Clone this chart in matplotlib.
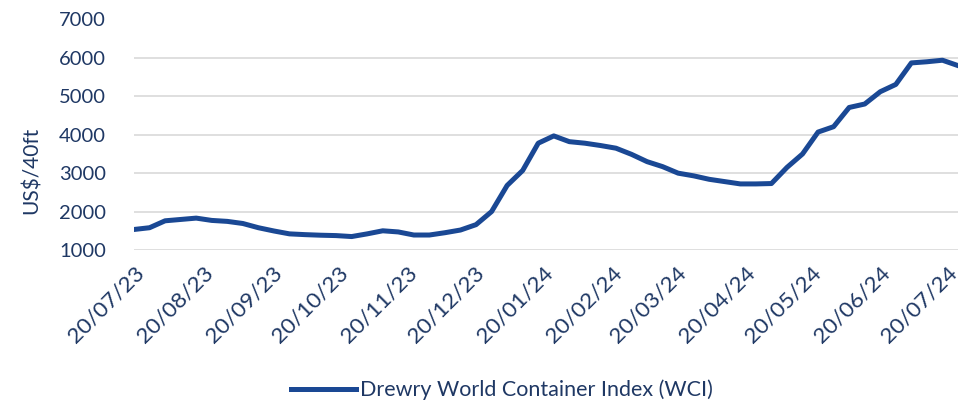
import pandas as pd
import numpy as np
import matplotlib.pyplot as plt
import matplotlib.dates as mdates

# weekly Drewry WCI readings (Thursdays)
start_date = '2023-07-20'
n_weeks = 54
wci = [1534, 1580, 1760, 1795, 1830, 1770, 1745, 1690, 1580, 1495,
       1420, 1400, 1385, 1375, 1350, 1420, 1500, 1470, 1390, 1390,
       1450, 1520, 1660, 2000, 2680, 3070, 3780, 3970, 3820, 3780,
       3720, 3650, 3490, 3300, 3170, 3000, 2930, 2840, 2780, 2720,
       2720, 2730, 3150, 3500, 4070, 4210, 4710, 4800, 5120, 5310,
       5870, 5900, 5940, 5800]
tick_dates = pd.date_range('2023-07-01', periods=13, freq='MS') + pd.Timedelta(days=19)

dates = pd.date_range(start_date, periods=n_weeks, freq='7D')

navy = '#1f3864'
line_col = '#1a4894'
plt.rcParams['font.family'] = ['Lato', 'DejaVu Sans']

fig = plt.figure(figsize=(9.75, 4.01), dpi=100)
ax = fig.add_axes([134/975, 1-250/401, (958-134)/975, (250-19.5)/401])

ax.plot(dates, wci, color=line_col, linewidth=3.6, solid_joinstyle='round',
        label='Drewry World Container Index (WCI)')

ax.set_xlim(dates[0], dates[-1])
ax.set_ylim(1000, 7000)
ax.set_yticks(range(1000, 7001, 1000))
ax.set_xticks(tick_dates)
ax.xaxis.set_major_formatter(mdates.DateFormatter('%d/%m/%y'))
ax.grid(axis='y', color='#d9d9d9', linewidth=1.2)
ax.set_axisbelow(True)
for s in ax.spines.values():
    s.set_visible(False)
ax.tick_params(axis='y', length=0, labelsize=14.5, colors=navy, pad=20)
ax.tick_params(axis='x', length=0, labelsize=16.2, colors=navy, pad=9)
for lbl in ax.get_xticklabels():
    lbl.set_rotation(45)
    lbl.set_ha('right')
    lbl.set_va('top')
    lbl.set_rotation_mode('anchor')

fig.text(32/975, 1-170/401, 'US$/40ft', rotation=90, ha='center', va='center',
         fontsize=15, color=navy)

leg = fig.legend(loc='center', bbox_to_anchor=(502/975, 1-390/401), frameon=False,
                 fontsize=15.5, handlelength=3.0, handletextpad=0.2)
for t in leg.get_texts():
    t.set_color(navy)

fig.savefig('out.png', dpi=100, facecolor='white')
